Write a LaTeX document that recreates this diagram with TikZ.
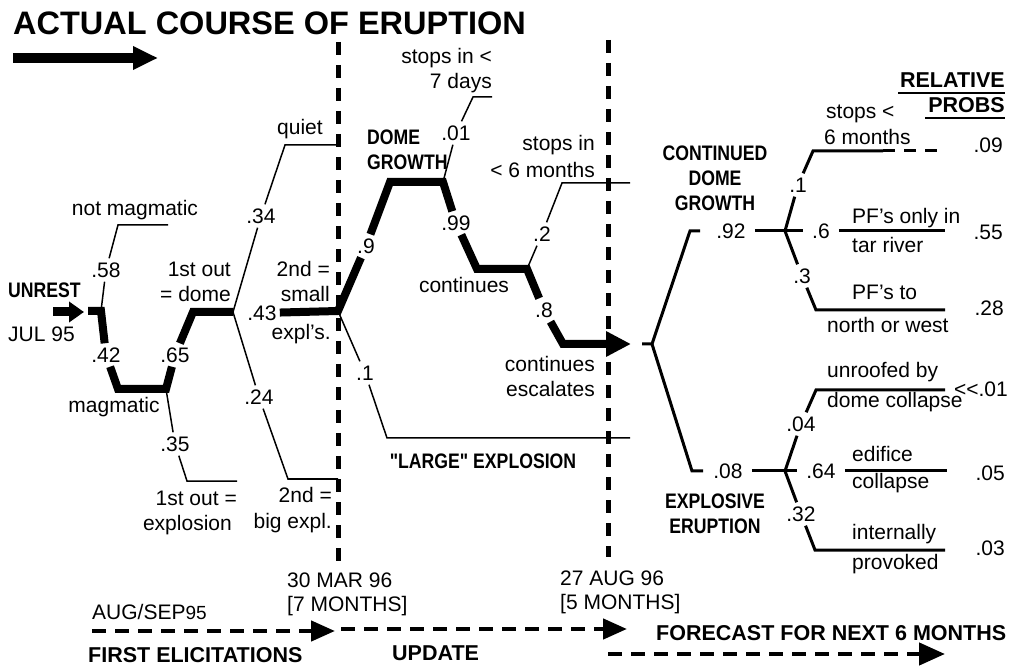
\documentclass[tikz,border=0pt]{standalone}
\usepackage{fontspec}
\setmainfont{Liberation Sans}
\newfontfamily\nbf[FakeStretch=0.84]{Liberation Sans}
\usetikzlibrary{arrows.meta}
\newcommand\fsn{\fontsize{21}{26}\selectfont}
\begin{document}
\begin{tikzpicture}[x=1pt,y=-1pt,
 tx/.style={font=\fsn, inner sep=0pt, text height=15pt, text depth=0pt},
 bx/.style={font=\fsn\nbf\bfseries, inner sep=0pt, text height=15pt, text depth=0pt},
 bb/.style={font=\fontsize{21.5}{26}\selectfont\bfseries, inner sep=0pt, text height=15pt, text depth=0pt},
 pr/.style={tx, inner xsep=3pt, inner ysep=4pt},
 prr/.style={tx, inner xsep=9pt, inner ysep=3.5pt},
 mainl/.style={line width=8pt},
 thinl/.style={line width=1.5pt},
 rtl/.style={line width=3pt},
 vdash/.style={line width=5pt, dash pattern=on 13pt off 10pt},
 bdash/.style={line width=4.5pt, dash pattern=on 14pt off 9pt},
]
\fill[white] (0,0) rectangle (1013,668);
\useasboundingbox (0,0) rectangle (1013,668);

% title
\node[anchor=base west, font=\fontsize{32.5}{36}\selectfont\bfseries, inner sep=0pt] (title) at (13,35) {ACTUAL COURSE OF ERUPTION};
\coordinate (ta0) at (13,58); \coordinate (ta1) at (158,58);
\draw[line width=10pt, -{Triangle[length=25pt,width=22pt]}] (ta0) -- (ta1);

% dashed time lines
\coordinate (vl0) at (338,42); \coordinate (vl1) at (338,562);
\coordinate (vr0) at (608,40); \coordinate (vr1) at (608,557);
\draw[vdash] (vl0) -- (vl1);
\draw[vdash] (vr0) -- (vr1);

% unrest
\node[bx, anchor=base west] (unrest) at (8,298) {UNREST};
\node[tx, anchor=base west] (jul) at (8,342) {JUL 95};
\coordinate (ua0) at (53,312); \coordinate (ua1) at (84,312);
\draw[line width=9pt,-{Triangle[length=15pt,width=20pt]}] (ua0) -- (ua1);

% probability labels (left part)
\node[pr] (p58) at (106,270) {.58};
\node[pr] (p42) at (106,355) {.42};
\node[pr] (p65) at (175,355) {.65};
\node[pr] (p35) at (175,444) {.35};
\node[pr] (p34) at (261,216) {.34};
\node[pr] (p43) at (262,313) {.43};
\node[pr] (p24) at (259,397) {.24};
\node[pr] (p9) at (366,246) {.9};
\node[pr] (p01) at (456,133) {.01};
\node[pr] (p99) at (456,223) {.99};
\node[pr] (p2) at (542,234) {.2};
\node[pr] (p8) at (544,310) {.8};
\node[pr] (p1) at (365,373) {.1};

% coordinates (left part)
\coordinate (a0) at (88,311); \coordinate (jU) at (101,311);
\coordinate (nm1) at (118,225); \coordinate (nmE) at (168,225);
\coordinate (m1) at (118,389); \coordinate (m2) at (166,389);
\coordinate (e1) at (187,481); \coordinate (eE) at (237,481);
\coordinate (d1) at (193,312); \coordinate (jD) at (233,312);
\coordinate (q1) at (285,145); \coordinate (qE) at (338,145);
\coordinate (b1) at (288,479); \coordinate (bE) at (338,479);
\coordinate (jS) at (338,311);
\coordinate (g1) at (390,182); \coordinate (g2) at (443,182);
\coordinate (s1) at (473,97); \coordinate (sE) at (492,97);
\coordinate (c1) at (477,269); \coordinate (c2) at (527,269);
\coordinate (t1) at (562,183); \coordinate (tE) at (630,183);
\coordinate (k1) at (563,344); \coordinate (tip) at (631,344);
\coordinate (L1) at (387,438); \coordinate (LE) at (630,438);

% actual course (thick)
\draw[mainl] (a0) -- (jU) -- (p42);
\draw[mainl] (p42) -- (m1) -- (m2) -- (p65);
\draw[mainl] (p65) -- (d1) -- (jD);
\draw[mainl] (p43) -- (jS) -- (p9);
\draw[mainl] (p9) -- (g1) -- (g2) -- (p99);
\draw[mainl] (p99) -- (c1) -- (c2) -- (p8);
\draw[mainl, -{Triangle[length=25pt,width=24pt]}] (p8) -- (k1) -- (tip);

% other branches (thin)
\draw[thinl] (jU) -- (p58); \draw[thinl] (p58) -- (nm1) -- (nmE);
\draw[thinl] (m2) -- (p35); \draw[thinl] (p35) -- (e1) -- (eE);
\draw[thinl] (jD) -- (p34); \draw[thinl] (p34) -- (q1) -- (qE);
\draw[thinl] (jD) -- (p24); \draw[thinl] (p24) -- (b1) -- (bE);
\draw[thinl] (g2) -- (p01); \draw[thinl] (p01) -- (s1) -- (sE);
\draw[thinl] (c2) -- (p2); \draw[thinl] (p2) -- (t1) -- (tE);
\draw[thinl] (jS) -- (p1); \draw[thinl] (p1) -- (L1) -- (LE);

% texts (left part)
\node[tx, anchor=base] (tnm) at (135,216) {not magmatic};
\node[tx, anchor=base] (tmag) at (114,413) {magmatic};
\node[tx, anchor=base east] (t1a) at (231,277) {1st out};
\node[tx, anchor=base east] (t1b) at (231,302) {= dome};
\node[tx, anchor=base east] (t1c) at (237,505) {1st out =};
\node[tx, anchor=base east] (t1d) at (232,530) {explosion};
\node[tx, anchor=base] (tq) at (300,135) {quiet};
\node[tx, anchor=base east] (t2a) at (330,277) {2nd =};
\node[tx, anchor=base east] (t2b) at (330,302) {small};
\node[tx, anchor=base east] (t2c) at (331,340) {expl’s.};
\node[tx, anchor=base east] (t2d) at (332,503) {2nd =};
\node[tx, anchor=base east] (t2e) at (332,528) {big expl.};
\node[bx, anchor=base west] (tdg1) at (367,145) {DOME};
\node[bx, anchor=base west] (tdg2) at (367,170) {GROWTH};
\node[tx, anchor=base east] (ts7a) at (492,64) {stops in <};
\node[tx, anchor=base east] (ts7b) at (492,89) {7 days};
\node[tx, anchor=base east] (ts6a) at (595,151) {stops in};
\node[tx, anchor=base east] (ts6b) at (595,178) {< 6 months};
\node[tx, anchor=base] (tcon) at (464,293) {continues};
\node[tx, anchor=base east] (tce1) at (595,372) {continues};
\node[tx, anchor=base east] (tce2) at (595,397) {escalates};
\node[bx, anchor=base] (tlarge) at (483,468) {"LARGE" EXPLOSION};

% right tree
\node[prr] (p92) at (731,231) {.92};
\node[prr] (p6) at (821,231) {.6};
\node[pr] (p1b) at (798,185) {.1};
\node[pr] (p3) at (802,276) {.3};
\node[prr] (p08) at (728,471) {.08};
\node[prr] (p64) at (821,471) {.64};
\node[pr] (p04) at (801,424) {.04};
\node[pr] (p32) at (801,514) {.32};

\coordinate (jRs) at (642,344); \coordinate (jR) at (652,344);
\coordinate (u1) at (690,231); \coordinate (u2) at (700,231);
\coordinate (dr1) at (692,471); \coordinate (dr2) at (703,471);
\coordinate (jC) at (785,231); \coordinate (jE) at (785,471);
\coordinate (v1) at (813,151); \coordinate (vE) at (883,151); \coordinate (vD) at (945,151);
\coordinate (wE) at (945,231);
\coordinate (x1) at (816,310); \coordinate (xE) at (945,310);
\coordinate (y1) at (816,390); \coordinate (yE) at (945,390);
\coordinate (fE) at (947,471);
\coordinate (z1) at (815,550); \coordinate (zE) at (945,550);

\draw[rtl] (jRs) -- (jR) -- (u1) -- (u2);
\draw[rtl] (jR) -- (dr1) -- (dr2);
\draw[rtl] (p92) -- (p6);
\draw[rtl] (jC) -- (p1b); \draw[rtl] (p1b) -- (v1) -- (vE);
\draw[rtl, dash pattern=on 12pt off 9pt] (vE) -- (vD);
\draw[rtl] (p6) -- (wE);
\draw[rtl] (jC) -- (p3); \draw[rtl] (p3) -- (x1) -- (xE);
\draw[rtl] (p08) -- (p64);
\draw[rtl] (jE) -- (p04); \draw[rtl] (p04) -- (y1) -- (yE);
\draw[rtl] (p64) -- (fE);
\draw[rtl] (jE) -- (p32); \draw[rtl] (p32) -- (z1) -- (zE);

\node[bx, anchor=base] (tcd1) at (715,161) {CONTINUED};
\node[bx, anchor=base] (tcd2) at (715,186) {DOME};
\node[bx, anchor=base] (tcd3) at (715,211) {GROWTH};
\node[bx, anchor=base] (tee1) at (715,508) {EXPLOSIVE};
\node[bx, anchor=base] (tee2) at (715,533) {ERUPTION};

\node[tx, anchor=base west] (tsa) at (826,119) {stops <};
\node[tx, anchor=base west] (tsb) at (824,145) {6 months};
\node[tx, anchor=base west] (tpa) at (852,224) {PF’s only in};
\node[tx, anchor=base west] (tpb) at (852,253) {tar river};
\node[tx, anchor=base west] (tpc) at (852,300) {PF’s to};
\node[tx, anchor=base west] (tpd) at (827,333) {north or west};
\node[tx, anchor=base west] (tua) at (827,378) {unroofed by};
\node[tx, anchor=base west] (tub) at (827,408) {dome collapse};
\node[tx, anchor=base west] (tea) at (852,462) {edifice};
\node[tx, anchor=base west] (teb) at (852,489) {collapse};
\node[tx, anchor=base west] (tia) at (852,539) {internally};
\node[tx, anchor=base west] (tib) at (852,569) {provoked};

\node[tx, anchor=base east] (r09) at (1003,153) {.09};
\node[tx, anchor=base east] (r55) at (1003,240) {.55};
\node[tx, anchor=base east] (r28) at (1004,316) {.28};
\node[tx, anchor=base east] (r01) at (1008,397) {<\kern0pt<.01};
\node[tx, anchor=base east] (r05) at (1005,480) {.05};
\node[tx, anchor=base east] (r03) at (1005,555) {.03};

\node[anchor=base east, font=\fontsize{21.5}{24}\selectfont\bfseries, inner sep=0pt] (trel) at (1005,88) {RELATIVE};
\node[anchor=base east, font=\fontsize{21.5}{24}\selectfont\bfseries, inner sep=0pt] (tprob) at (1005,113) {PROBS};
\coordinate (ul0) at (898,93); \coordinate (ul1) at (1005,93);
\coordinate (ul2) at (925,118); \coordinate (ul3) at (1005,118);
\draw[line width=1.8pt] (ul0) -- (ul1);
\draw[line width=1.8pt] (ul2) -- (ul3);

% bottom timeline
\node[tx, anchor=base west] (tmar) at (287,587) {30 MAR 96};
\node[tx, anchor=base west] (tmar2) at (287,611) {[7 MONTHS]};
\node[tx, anchor=base west] (taug) at (560,585) {27 AUG 96};
\node[tx, anchor=base west] (taug2) at (560,609) {[5 MONTHS]};
\node[tx, anchor=base west] (tsep) at (92,619) {AUG/SEP{\fontsize{19}{22}\selectfont 95}};

\coordinate (b1a) at (92,631); \coordinate (b1b) at (335,631);
\coordinate (b2a) at (341,629); \coordinate (b2b) at (627,629);
\coordinate (b3a) at (608,654); \coordinate (b3b) at (945,654);
\draw[bdash, -{Triangle[length=24pt,width=20pt]}] (b1a) -- (b1b);
\draw[bdash, -{Triangle[length=24pt,width=20pt]}] (b2a) -- (b2b);
\draw[bdash, -{Triangle[length=26pt,width=22pt]}] (b3a) -- (b3b);

\node[bb, anchor=base west] (tfirst) at (88,662) {FIRST ELICITATIONS};
\node[bb, anchor=base west] (tupd) at (392,660) {UPDATE};
\node[bb, anchor=base west] (tfore) at (656,640) {FORECAST FOR NEXT 6 MONTHS};
\end{tikzpicture}
\end{document}
